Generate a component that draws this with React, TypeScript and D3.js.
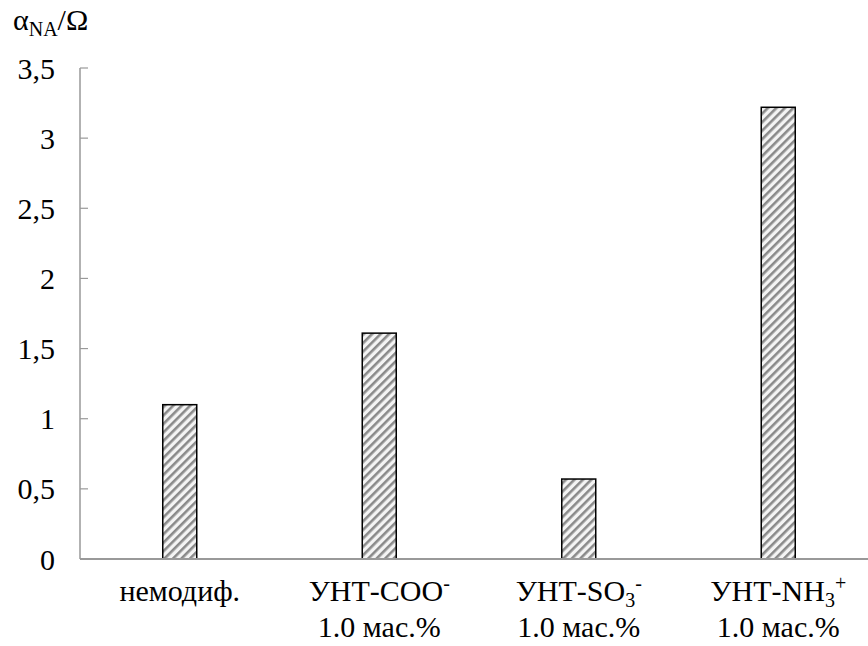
import React from "react";
import * as d3 from "d3";

const categories = ["немодиф.", "УНТ-COO-", "УНТ-SO3-", "УНТ-NH3+"];
const values = [1.1, 1.61, 0.57, 3.22];
const yTicks = [0, 0.5, 1, 1.5, 2, 2.5, 3, 3.5];
const yTickLabels = ["0", "0,5", "1", "1,5", "2", "2,5", "3", "3,5"];

const W = 868;
const H = 646;
const FONT = "Liberation Serif, Times New Roman, DejaVu Serif, serif";

function XLabel({ i }: { i: number }) {
  const sub = { fontSize: 20 } as const;
  if (i === 0) {
    return <tspan>немодиф.</tspan>;
  }
  if (i === 1) {
    return (
      <>
        <tspan>УНТ-COO</tspan>
        <tspan style={sub} dy={-11}>-</tspan>
      </>
    );
  }
  if (i === 2) {
    return (
      <>
        <tspan>УНТ-SO</tspan>
        <tspan style={sub} dy={6}>3</tspan>
        <tspan style={sub} dy={-17}>-</tspan>
      </>
    );
  }
  return (
    <>
      <tspan>УНТ-NH</tspan>
      <tspan style={sub} dy={6}>3</tspan>
      <tspan style={sub} dy={-17}>+</tspan>
    </>
  );
}

export default function App() {
  const left = 80;
  const right = 878;
  const top = 68;
  const bottom = 559;

  const x = d3.scaleBand<number>().domain(categories.map((_, i) => i)).range([left, right]);
  const y = d3.scaleLinear().domain([0, 3.5]).range([bottom, top]);
  const barW = 34;
  const textStyle = { fontFamily: FONT, fontSize: 30, fill: "#000" } as const;

  return (
    <svg
      width={W}
      height={H}
      style={{ position: "absolute", left: 0, top: 0, display: "block", background: "#fff" }}
    >
      <defs>
        <pattern id="hatch" patternUnits="userSpaceOnUse" width={6} height={6} patternTransform="rotate(45)">
          <rect width={6} height={6} fill="#f4f4f4" />
          <rect x={0} y={0} width={2.6} height={6} fill="#8a8a8a" />
        </pattern>
      </defs>

      {/* y axis */}
      <line x1={left} x2={left} y1={top} y2={bottom} stroke="#999" strokeWidth={1.5} />
      {yTicks.map((t, i) => (
        <g key={t}>
          <line x1={left} x2={left + 8} y1={y(t)} y2={y(t)} stroke="#999" strokeWidth={1.2} />
          <text x={55} y={y(t)} dy="0.35em" textAnchor="end" style={textStyle}>
            {yTickLabels[i]}
          </text>
        </g>
      ))}

      {/* bars */}
      {values.map((v, i) => {
        const cx = (x(i) as number) + x.bandwidth() / 2;
        return (
          <rect
            key={i}
            x={cx - barW / 2}
            y={y(v)}
            width={barW}
            height={y(0) - y(v)}
            fill="url(#hatch)"
            stroke="#000"
            strokeWidth={1.5}
          />
        );
      })}

      {/* x axis */}
      <line x1={left} x2={W} y1={bottom} y2={bottom} stroke="#999" strokeWidth={2} />

      {/* x labels */}
      {categories.map((c, i) => {
        const cx = (x(i) as number) + x.bandwidth() / 2;
        return (
          <g key={c}>
            <text x={cx} y={601} textAnchor="middle" style={textStyle}>
              <XLabel i={i} />
            </text>
            {i > 0 && (
              <text x={cx} y={637} textAnchor="middle" style={textStyle}>
                1.0 мас.%
              </text>
            )}
          </g>
        );
      })}

      {/* y title */}
      <text x={13} y={30} style={textStyle}>
        <tspan>α</tspan>
        <tspan style={{ fontSize: 20 }} dy={6}>NA</tspan>
        <tspan dy={-6}>/Ω</tspan>
      </text>
    </svg>
  );
}
